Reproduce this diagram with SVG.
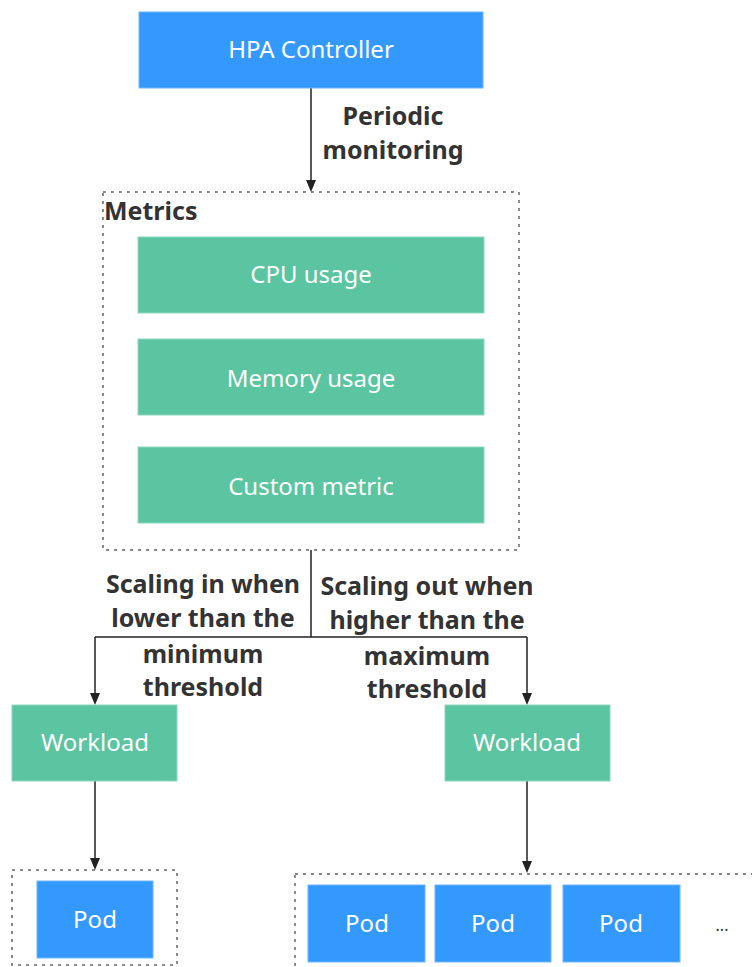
<svg xmlns="http://www.w3.org/2000/svg" width="752" height="967" viewBox="0 0 752 967">
<style>
.blue{fill:#3399ff;stroke:#6fb6ff;stroke-width:1}
.green{fill:#5bc4a0;stroke:#8fd6bd;stroke-width:1}
.wt{font-family:"Noto Sans","Open Sans",sans-serif;font-size:24px;fill:#ffffff;text-anchor:middle}
.lbl{font-family:"Noto Sans","Open Sans",sans-serif;font-size:25px;font-weight:bold;fill:#333333;text-anchor:middle}
.dash{fill:none;stroke:#666666;stroke-width:1.5;stroke-dasharray:3 5}
.ln{fill:none;stroke:#222222;stroke-width:1.5}
</style>
<g id="containers">
<rect id="metrics-box" class="dash" x="103" y="192" width="416" height="358"/>
<rect id="pods-left-box" class="dash" x="12" y="870" width="165" height="95"/>
<rect id="pods-right-box" class="dash" x="295" y="874" width="470" height="100"/>
</g>
<g id="connectors">
<path class="ln" d="M311,88 V180"/>
<path d="M306,180 L316,180 L311,192 Z" fill="#222"/>
<path class="ln" d="M311,550 V637 M95,637 H527 M95,637 V693 M527,637 V693"/>
<path d="M90,693 L100,693 L95,705 Z" fill="#222"/>
<path d="M522,693 L532,693 L527,705 Z" fill="#222"/>
<path class="ln" d="M95,781 V858 M527,781 V861"/>
<path d="M90,858 L100,858 L95,870 Z" fill="#222"/>
<path d="M522,861 L532,861 L527,873 Z" fill="#222"/>
</g>
<g id="hpa"><rect class="blue" x="139" y="12" width="344" height="76"/><text class="wt" x="311" y="58" font-size="25">HPA Controller</text></g>
<g id="label-periodic"><text class="lbl" x="393" y="125">Periodic</text><text class="lbl" x="393" y="159">monitoring</text></g>
<g id="metrics-title"><text class="lbl" x="104" y="220" style="text-anchor:start">Metrics</text></g>
<g id="cpu"><rect class="green" x="138" y="237" width="346" height="76"/><text class="wt" x="311" y="283">CPU usage</text></g>
<g id="memory"><rect class="green" x="138" y="339" width="346" height="76"/><text class="wt" x="311" y="387">Memory usage</text></g>
<g id="custom"><rect class="green" x="138" y="447" width="346" height="76"/><text class="wt" x="311" y="495">Custom metric</text></g>
<g id="label-in"><text class="lbl" x="203" y="593">Scaling in when</text><text class="lbl" x="203" y="627">lower than the</text><text class="lbl" x="203" y="663">minimum</text><text class="lbl" x="203" y="696">threshold</text></g>
<g id="label-out"><text class="lbl" x="427" y="595">Scaling out when</text><text class="lbl" x="427" y="629">higher than the</text><text class="lbl" x="427" y="665">maximum</text><text class="lbl" x="427" y="698">threshold</text></g>
<g id="workload-left"><rect class="green" x="12" y="705" width="165" height="76"/><text class="wt" x="95" y="751">Workload</text></g>
<g id="workload-right"><rect class="green" x="445" y="705" width="165" height="76"/><text class="wt" x="527" y="751">Workload</text></g>
<g id="pod-l1"><rect class="blue" x="37" y="881" width="116" height="77"/><text class="wt" x="95" y="928">Pod</text></g>
<g id="pod-r1"><rect class="blue" x="308" y="885" width="117" height="77"/><text class="wt" x="367" y="932">Pod</text></g>
<g id="pod-r2"><rect class="blue" x="435" y="885" width="116" height="77"/><text class="wt" x="493" y="932">Pod</text></g>
<g id="pod-r3"><rect class="blue" x="563" y="885" width="117" height="77"/><text class="wt" x="621" y="932">Pod</text></g>
<g id="ellipsis"><text x="722" y="931" style="font-family:'Noto Sans',sans-serif;font-size:16px;fill:#333;text-anchor:middle">...</text></g>
</svg>
